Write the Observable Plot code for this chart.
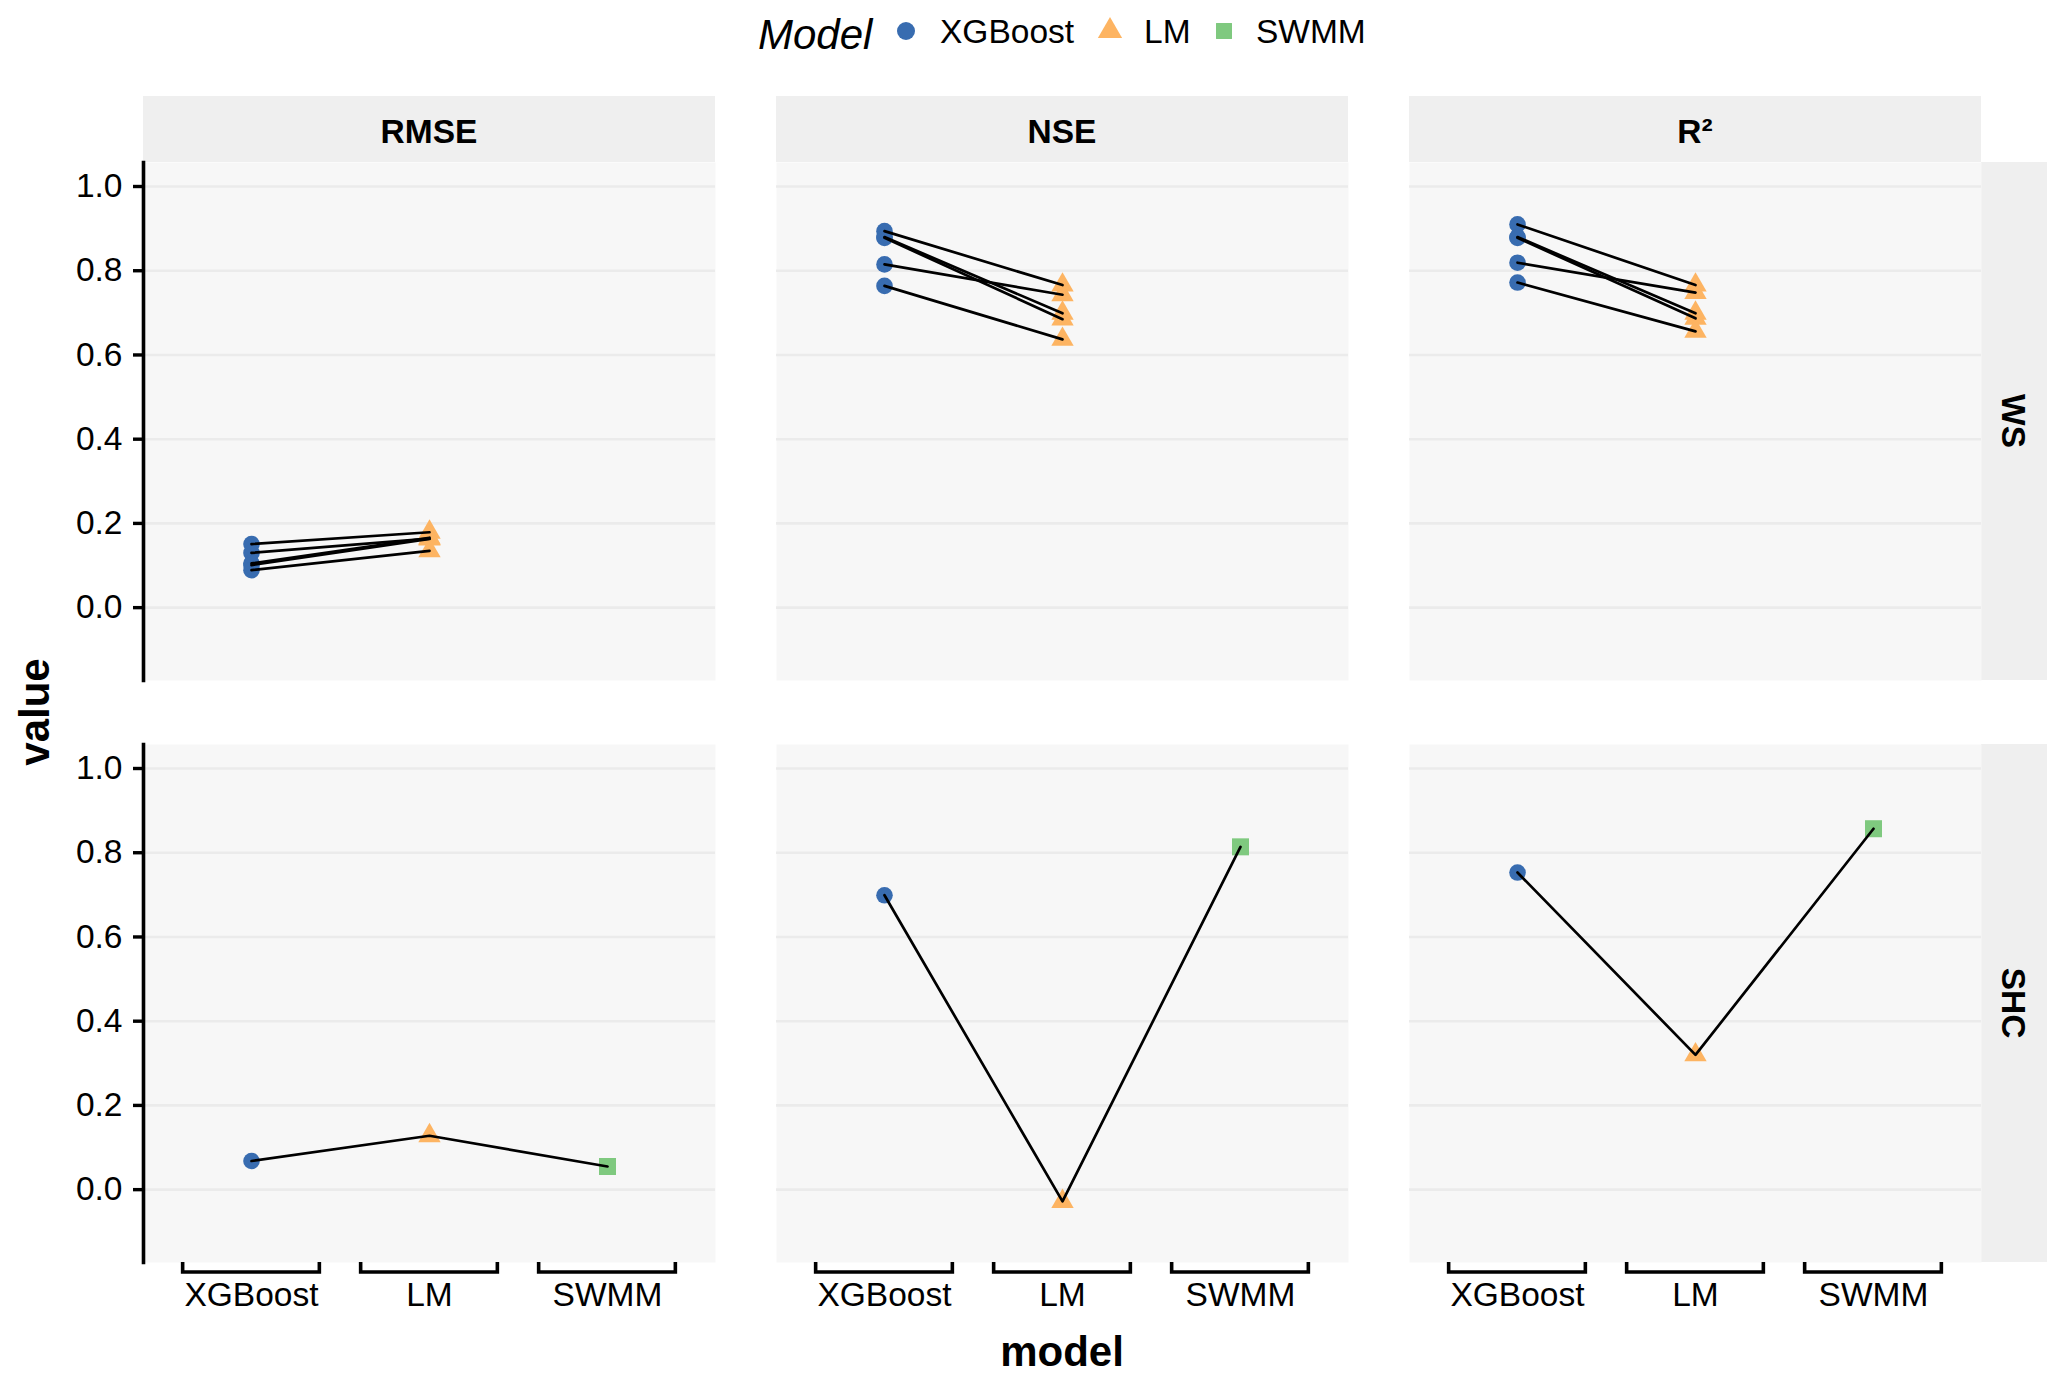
<!DOCTYPE html>
<html>
<head>
<meta charset="utf-8">
<script src="https://cdn.jsdelivr.net/npm/d3@7"></script>
<script src="https://cdn.jsdelivr.net/npm/@observablehq/plot@0.6"></script>
<style>
  html, body { margin: 0; padding: 0; background: #ffffff; }
  #chart { position: relative; width: 2067px; height: 1384px; font-family: "Liberation Sans", Arial, Helvetica, sans-serif; }
  .panel { position: absolute; }
  .panel svg { display: block; max-width: none !important; }
  #overlay { position: absolute; left: 0; top: 0; }
</style>
</head>
<body>
<div id="chart"></div>
<script>
// ---------------- data ----------------
const metrics = ["RMSE", "NSE", "R²"];
const sites = ["WS", "SHC"];
const models = ["XGBoost", "LM", "SWMM"];
const modelColors = ["#386cb0", "#fdb462", "#7fc97f"];
const modelSymbols = ["circle", "triangle", "square"];
const yTicks = [0, 0.2, 0.4, 0.6, 0.8, 1.0];

// WS site: five events, XGBoost vs LM
const wsEvents = ["1", "2", "3", "4", "5"];
const wsRMSE_XGBoost = [0.151, 0.130, 0.105, 0.101, 0.089];
const wsRMSE_LM      = [0.179, 0.164, 0.166, 0.163, 0.135];
const wsNSE_XGBoost  = [0.894, 0.815, 0.880, 0.878, 0.764];
const wsNSE_LM       = [0.766, 0.743, 0.699, 0.685, 0.637];
const wsR2_XGBoost   = [0.910, 0.819, 0.880, 0.878, 0.772];
const wsR2_LM        = [0.766, 0.748, 0.699, 0.687, 0.656];

// SHC site: one value per model (XGBoost, LM, SWMM)
const shcRMSE = [0.068, 0.128, 0.055];
const shcNSE  = [0.699, -0.028, 0.814];
const shcR2   = [0.753, 0.320, 0.857];

// ---------------- table ----------------
const rows = [];
function addWS(metric, model, values) {
  values.forEach((v, i) => rows.push({site: "WS", metric, model, group: "WS-" + wsEvents[i], value: v}));
}
addWS("RMSE", "XGBoost", wsRMSE_XGBoost); addWS("RMSE", "LM", wsRMSE_LM);
addWS("NSE", "XGBoost", wsNSE_XGBoost);   addWS("NSE", "LM", wsNSE_LM);
addWS("R²", "XGBoost", wsR2_XGBoost);     addWS("R²", "LM", wsR2_LM);
function addSHC(metric, values) {
  values.forEach((v, i) => rows.push({site: "SHC", metric, model: models[i], group: "SHC", value: v}));
}
addSHC("RMSE", shcRMSE); addSHC("NSE", shcNSE); addSHC("R²", shcR2);

// ---------------- layout ----------------
const FONT = "Liberation Sans, Arial, Helvetica, sans-serif";
const PW = 572, PH = 518;
const colX = [143, 776, 1409];
const rowY = [162, 744];
const yDomain = [-0.173, 1.057];
const dotR = [8.3, 8.3, 9.6];
const TICK_FS = 33.5;
const chart = document.getElementById("chart");

// overlay: strips, titles, legend
const ov = d3.select(chart).append("svg").attr("id", "overlay")
  .attr("width", 2067).attr("height", 1384)
  .style("font-family", FONT);

metrics.forEach((m, ci) => {
  ov.append("rect").attr("x", colX[ci]).attr("y", 96).attr("width", PW).attr("height", 66).attr("fill", "#efefef");
  ov.append("text").attr("x", colX[ci] + PW / 2).attr("y", 143).attr("text-anchor", "middle")
    .attr("font-size", 33.5).attr("font-weight", "bold").attr("fill", "#000").text(m);
});
sites.forEach((s, ri) => {
  ov.append("rect").attr("x", colX[2] + PW).attr("y", rowY[ri]).attr("width", 66).attr("height", PH).attr("fill", "#efefef");
  ov.append("text").attr("transform", `translate(${colX[2] + PW + 33},${rowY[ri] + PH / 2}) rotate(90)`)
    .attr("text-anchor", "middle").attr("dy", "0.36em")
    .attr("font-size", 33.5).attr("font-weight", "bold").attr("fill", "#000").text(s);
});
ov.append("text").attr("transform", "translate(49,712) rotate(-90)").attr("text-anchor", "middle")
  .attr("font-size", 42).attr("font-weight", "bold").attr("fill", "#000").text("value");
ov.append("text").attr("x", (colX[0] + colX[2] + PW) / 2).attr("y", 1366).attr("text-anchor", "middle")
  .attr("font-size", 42).attr("font-weight", "bold").attr("fill", "#000").text("model");

// legend
ov.append("text").attr("x", 758).attr("y", 49).attr("font-size", 42).attr("font-style", "italic").attr("fill", "#000").text("Model");
const legSymX = [906, 1110, 1224];
const legTextX = [940, 1144, 1256];
const legR = [9, 9, 9];
const symMap = {circle: d3.symbolCircle, triangle: d3.symbolTriangle, square: d3.symbolSquare};
models.forEach((m, i) => {
  ov.append("path").attr("transform", `translate(${legSymX[i]},31)`)
    .attr("d", d3.symbol(symMap[modelSymbols[i]], Math.PI * legR[i] * legR[i])())
    .attr("fill", modelColors[i]);
  ov.append("text").attr("x", legTextX[i]).attr("y", 43).attr("font-size", TICK_FS).attr("fill", "#000").text(m);
});

// ---------------- panels ----------------
function panel(ci, ri) {
  const metric = metrics[ci], site = sites[ri];
  const data = rows.filter(d => d.metric === metric && d.site === site);
  const showY = ci === 0, showX = ri === 1;
  const mL = showY ? colX[0] : 0;
  const mB = showX ? 62 : 0;
  const marks = [
    Plot.frame({fill: "#f7f7f7", stroke: "none"}),
    Plot.ruleY(yTicks, {stroke: "#ebebeb", strokeWidth: 2.6}),
    ...models.map((m, i) => Plot.dot(data.filter(d => d.model === m), {
      x: "model", y: "value", symbol: modelSymbols[i], r: dotR[i], fill: modelColors[i], stroke: "none"
    })),
    Plot.line(data, {x: "model", y: "value", z: "group", stroke: "#000", strokeWidth: 2.7})
  ];
  if (showY) {
    marks.push(Plot.axisY({ticks: yTicks, tickFormat: d3.format(".1f"), tickSize: 10, tickPadding: 11,
      fontSize: TICK_FS, color: "#000", strokeWidth: 3.4, label: null}));
    marks.push(Plot.frame({anchor: "left", stroke: "#000", strokeWidth: 3.6}));
  }
  if (showX) {
    marks.push(Plot.axisX({tickSize: 0, tickPadding: 20, fontSize: TICK_FS, color: "#000", label: null}));
  }
  const xOpts = {type: "point", domain: models, padding: 0.6};
  if (!showX) xOpts.axis = null;
  const yOpts = {domain: yDomain};
  if (!showY) yOpts.axis = null;
  const p = Plot.plot({
    width: mL + PW, height: PH + mB,
    marginLeft: mL, marginRight: 0, marginTop: 0, marginBottom: mB,
    x: xOpts, y: yOpts,
    style: {fontFamily: FONT, background: "transparent", overflow: "visible", color: "#000"},
    marks
  });
  if (showX) {
    const sx = p.scale("x");
    const pos = models.map(m => sx.apply(m));
    const step = pos[1] - pos[0];
    const g = d3.select(p).append("g").attr("fill", "none").attr("stroke", "#000")
      .attr("stroke-width", 3.6).attr("stroke-linejoin", "miter");
    pos.forEach(x => g.append("path")
      .attr("d", `M${x - 0.384 * step},${PH}V${PH + 10}H${x + 0.384 * step}V${PH}`));
  }
  const div = document.createElement("div");
  div.className = "panel";
  div.style.left = (colX[ci] - mL) + "px";
  div.style.top = rowY[ri] + "px";
  div.style.width = (mL + PW) + "px";
  div.style.height = (PH + mB) + "px";
  div.appendChild(p);
  chart.appendChild(div);
}
for (let ri = 0; ri < sites.length; ri++)
  for (let ci = 0; ci < metrics.length; ci++) panel(ci, ri);
</script>
</body>
</html>
